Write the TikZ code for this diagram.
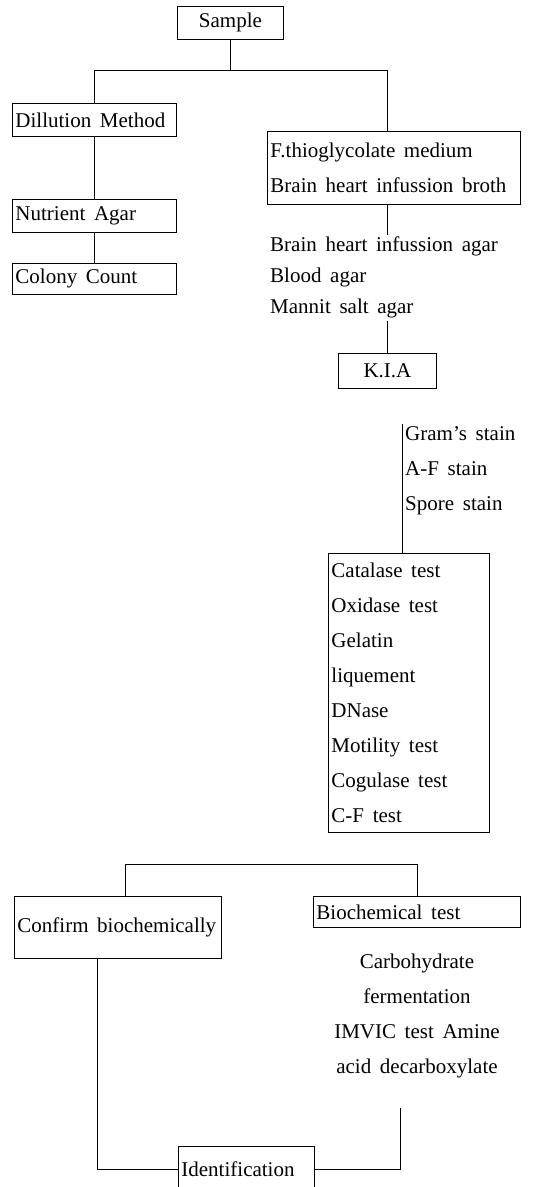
\documentclass[tikz,border=0pt]{standalone}
\usepackage{fontspec}
\setmainfont{Liberation Serif}[WordSpace=1.65]
\usetikzlibrary{positioning,calc}
\newcommand{\flowfont}{\fontsize{21}{35}\selectfont}
\newcommand{\mediafont}{\fontsize{21}{31}\selectfont}
\tikzset{
  every node/.style={font=\flowfont},
  flowbox/.style={draw, line width=0.85pt, anchor=north west, inner xsep=3pt, inner ysep=0pt, align=flush left},
  flowtext/.style={anchor=north west, inner xsep=3pt, inner ysep=2pt, align=left},
  link/.style={line width=0.85pt},
}
\begin{document}
\begin{tikzpicture}[x=1pt,y=-1pt]
  \useasboundingbox (0,0) rectangle (547,1187);
  % left branch
  \node[flowbox, align=flush center, text width=100pt, minimum height=33pt] (sample) at (177,6) {Sample};
  \node[flowbox, text width=158pt, minimum height=33pt] (dilution) at (12,103) {Dillution Method};
  \node[flowbox, text width=158pt, minimum height=33pt] (nutrient) at (12,199) {Nutrient Agar};
  \node[flowbox, text width=158pt, minimum height=31pt] (colony) at (12,263) {Colony Count};
  % right branch
  \node[flowbox, text width=247pt, minimum height=73pt] (broth) at (267,131) {F.thioglycolate medium\\Brain heart infussion broth};
  \node[flowtext, font=\mediafont] (media) at (267,235) {Brain heart infussion agar\\Blood agar\\Mannit salt agar};
  \node[flowbox, align=flush center, text width=92pt, minimum height=35pt] (kia) at (338,353) {K.I.A};
  \node[flowtext] (stains) at (402,424) {Gram's stain\\A-F stain\\Spore stain};
  \node[flowbox, text width=155pt, minimum height=279pt] (tests) at (328,553) {Catalase test\\Oxidase test\\Gelatin\\liquement\\DNase\\Motility test\\Cogulase test\\C-F test};
  % bottom part
  \node[flowbox, text width=201pt, minimum height=62pt] (confirm) at (14,896) {Confirm biochemically};
  \node[flowbox, text width=201pt, minimum height=31pt] (biochem) at (313,896) {Biochemical test};
  \node[align=center, anchor=north, inner sep=2pt] (carb) at (417,952) {Carbohydrate\\fermentation\\IMVIC test Amine\\acid decarboxylate};
  \node[flowbox, text width=130pt, minimum height=46pt] (ident) at (178,1146) {Identification};
  % connectors
  \draw[link] (sample.south) -- ++(0,31) coordinate (fork1);
  \draw[link] (dilution.north) |- (fork1) -| ([xshift=-7pt]broth.north);
  \draw[link] (dilution.south) -- (nutrient.north);
  \draw[link] (nutrient.south) -- (colony.north);
  \draw[link] ([xshift=-7pt]broth.south) -- ([xshift=-7pt]broth.south |- media.north);
  \draw[link] (media.south -| kia.north) -- (kia.north);
  \draw[link] (stains.north west) -- (stains.north west |- tests.north);
  \draw[link] ([xshift=7pt]confirm.north) -- ++(0,-32) -| (biochem.north);
  \draw[link] ([xshift=-21pt]confirm.south) |- (ident.west);
  \draw[link] ([xshift=-17pt,yshift=-27pt]carb.south) |- (ident.east);
\end{tikzpicture}
\end{document}
